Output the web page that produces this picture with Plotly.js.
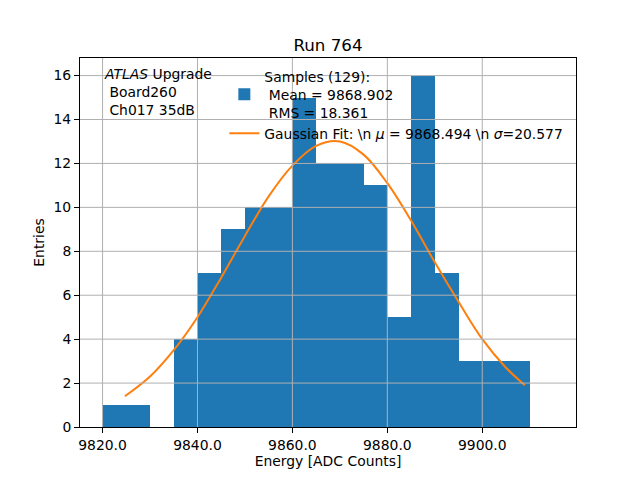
<!DOCTYPE html>
<html>
<head>
<meta charset="utf-8">
<script src="https://cdn.plot.ly/plotly-3.0.1.min.js"></script>
<style>
  body { margin: 0; }
  #hist { width: 640px; height: 480px; }
</style>
</head>
<body>
<div id="hist"></div>
<script>
// histogram bins (left edges, width 5) and counts
let binEdges = [9820, 9825, 9830, 9835, 9840, 9845, 9850, 9855, 9860, 9865,
                9870, 9875, 9880, 9885, 9890, 9895, 9900, 9905, 9910]
let counts = [1, 1, 0, 4, 7, 9, 10, 10, 15, 12, 12, 11, 5, 16, 7, 3, 3, 3, 0]
let binWidth = 5

// gaussian fit curve
let fitX = [9824.7, 9830, 9835, 9840, 9845, 9850, 9855, 9860, 9865, 9870,
            9875, 9880, 9885, 9890, 9895, 9900, 9905, 9909]
let fitY = [1.4, 2.3, 3.5, 5.0, 6.8, 8.7, 10.5, 11.9, 12.8, 13.0,
            12.4, 11.1, 9.4, 7.5, 5.7, 4.0, 2.7, 1.9]

let xTicks = [9820, 9840, 9860, 9880, 9900]
let xTickText = ["9820.0", "9840.0", "9860.0", "9880.0", "9900.0"]
let yTicks = [0, 2, 4, 6, 8, 10, 12, 14, 16]

let font = "DejaVu Sans, sans-serif"
let fs = 13.9
let gridColor = "#b0b0b0"

let bars = {
  x: binEdges, y: counts, type: "bar", width: binWidth, offset: 0,
  marker: {color: "#1f77b4", line: {width: 0}},
  name: "Samples (129):<br>\u00a0Mean = 9868.902<br>\u00a0RMS = 18.361",
  hoverinfo: "x+y"
}
let fit = {
  x: fitX, y: fitY, type: "scatter", mode: "lines",
  line: {color: "#ff7f0e", width: 2, shape: "spline"},
  name: "Gaussian Fit: \\n <i>\u03bc</i> = 9868.494 \\n <i>\u03c3</i>=20.577"
}

// matplotlib draws grid over the bars, so use shapes above traces
let shapes = []
for (let v of xTicks) {
  shapes.push({type: "line", xref: "x", yref: "paper", x0: v, x1: v, y0: 0, y1: 1,
               layer: "above", line: {color: gridColor, width: 1}})
}
for (let v of yTicks.slice(1)) {
  shapes.push({type: "line", xref: "paper", yref: "y", x0: 0, x1: 1, y0: v, y1: v,
               layer: "above", line: {color: gridColor, width: 1}})
}

let layout = {
  width: 640, height: 480,
  margin: {l: 80, r: 64, t: 58, b: 53},
  paper_bgcolor: "white", plot_bgcolor: "white",
  font: {family: font, size: fs, color: "black"},
  title: {text: "Run 764", font: {size: 16.7}, x: 0.5, xref: "paper",
          y: 1, yref: "paper", yanchor: "bottom", pad: {b: 7}},
  bargap: 0,
  showlegend: true,
  legend: {x: 0.291, y: 0.993, xanchor: "left", yanchor: "top",
           bgcolor: "rgba(0,0,0,0)", borderwidth: 0, font: {size: fs},
           tracegroupgap: 3},
  xaxis: {
    range: [9815.25, 9919.75], tickvals: xTicks, ticktext: xTickText,
    showgrid: false, zeroline: false,
    showline: true, mirror: true, linecolor: "black", linewidth: 1,
    ticks: "outside", ticklen: 5, tickcolor: "black", tickfont: {size: fs},
    title: {text: "Energy [ADC Counts]", standoff: 4, font: {size: fs}}
  },
  yaxis: {
    range: [0, 16.8], tickvals: yTicks,
    showgrid: false, zeroline: false,
    showline: true, mirror: true, linecolor: "black", linewidth: 1,
    ticks: "outside", ticklen: 5, tickcolor: "black", tickfont: {size: fs},
    title: {text: "Entries", standoff: 5, font: {size: fs}}
  },
  shapes: shapes,
  annotations: [{
    xref: "paper", yref: "paper", x: 0.044, y: 0.985, xanchor: "left", yanchor: "top",
    align: "left", showarrow: false, font: {size: fs},
    text: "<i>ATLAS</i> Upgrade<br>\u00a0Board260<br>\u00a0Ch017 35dB"
  }]
}

Plotly.newPlot("hist", [bars, fit], layout, {staticPlot: true})
</script>
</body>
</html>
